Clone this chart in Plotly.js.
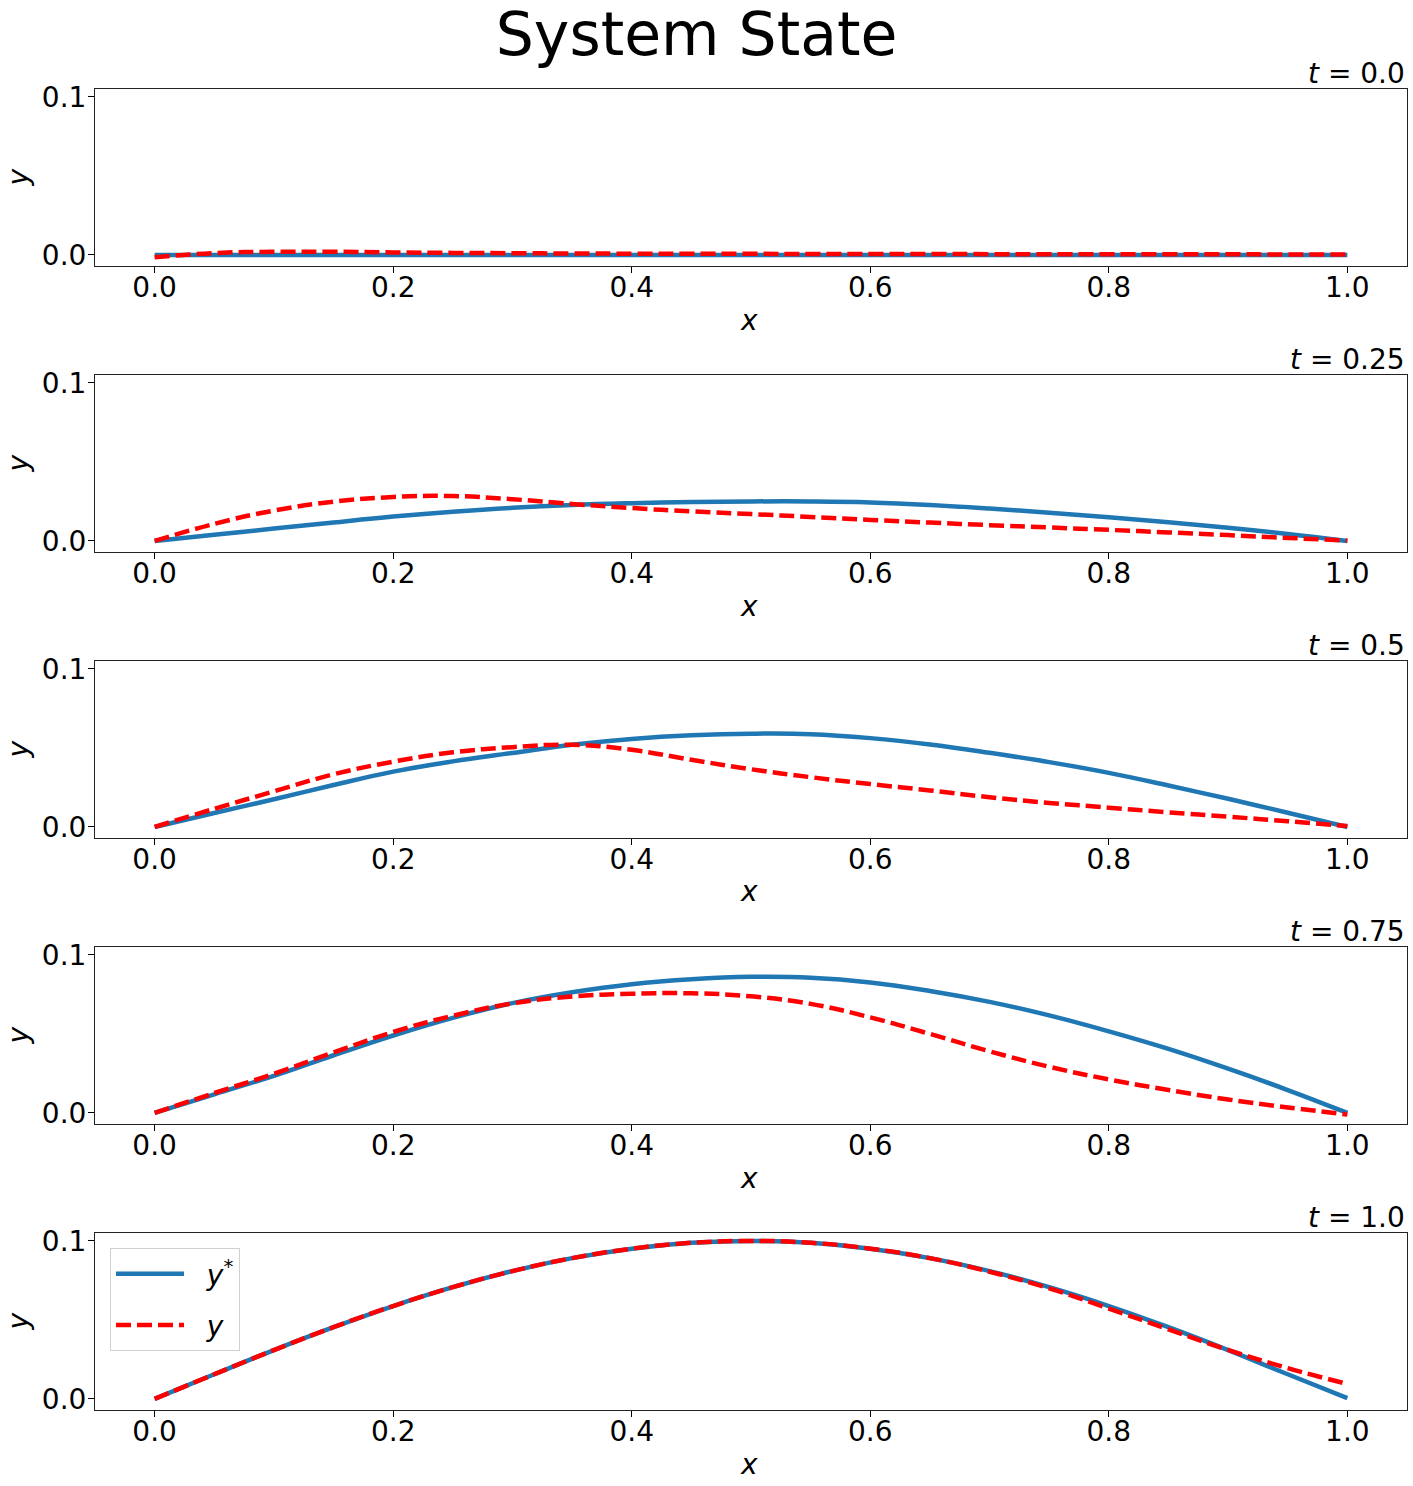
<!DOCTYPE html>
<html>
<head>
<meta charset="utf-8">
<script src="https://cdn.plot.ly/plotly-3.0.1.min.js"></script>
<style>
  body { margin: 0; background: #fff; }
  #plot { width: 1413px; height: 1486px; }
</style>
</head>
<body>
<div id="plot"></div>
<script>
// grid the curves were read on
const xs = [0, 0.05, 0.1, 0.15, 0.2, 0.25, 0.3, 0.35, 0.4, 0.45, 0.5,
            0.55, 0.6, 0.65, 0.7, 0.75, 0.8, 0.85, 0.9, 0.95, 1.0];

const times = ["0.0", "0.25", "0.5", "0.75", "1.0"];

// target state y* per time
const ystar_t0 = [0, 0, 0, 0, 0, 0, 0, 0, 0, 0, 0, 0, 0, 0, 0, 0, 0, 0, 0, 0, 0];
const ystar_t025 = [0, 0.0039, 0.0078, 0.0117, 0.0154, 0.0185, 0.021, 0.0228, 0.0239, 0.0246, 0.025,
                    0.025, 0.0244, 0.0228, 0.0205, 0.0178, 0.015, 0.0118, 0.0083, 0.0044, 0];
const ystar_t05 = [0, 0.0088, 0.0175, 0.0265, 0.035, 0.0415, 0.0468, 0.052, 0.0557, 0.058, 0.059,
                   0.0587, 0.0562, 0.0522, 0.0469, 0.041, 0.0342, 0.0262, 0.0178, 0.009, 0];
const ystar_t075 = [0, 0.0118, 0.0235, 0.0365, 0.049, 0.0602, 0.0695, 0.0764, 0.0815, 0.0846, 0.0861,
                    0.0856, 0.0826, 0.0772, 0.0703, 0.0617, 0.0516, 0.0405, 0.028, 0.0145, 0];
const ystar_t1 = [0, 0.0156, 0.0309, 0.0454, 0.0588, 0.0707, 0.0809, 0.0891, 0.0951, 0.0988, 0.1,
                  0.0988, 0.0951, 0.0891, 0.0809, 0.0707, 0.0588, 0.0454, 0.0309, 0.0156, 0.0005];

// model state y per time
const y_t0 = [-0.0015, 0.0012, 0.002, 0.002, 0.0016, 0.0013, 0.0011, 0.0009, 0.0008, 0.0007, 0.0007,
              0.0006, 0.0006, 0.0006, 0.0005, 0.0005, 0.0005, 0.0004, 0.0004, 0.0003, 0.0002];
const y_t025 = [0, 0.0108, 0.0192, 0.0248, 0.0278, 0.0284, 0.0264, 0.0234, 0.0208, 0.0187, 0.017,
                0.0152, 0.0133, 0.0116, 0.01, 0.0085, 0.007, 0.0054, 0.0037, 0.0019, 0.0003];
const y_t05 = [0, 0.0115, 0.0225, 0.0333, 0.0413, 0.0472, 0.0505, 0.052, 0.0488, 0.0425, 0.0365,
               0.0315, 0.0271, 0.0231, 0.0188, 0.0152, 0.0122, 0.0092, 0.0065, 0.0036, 0.0006];
const y_t075 = [0, 0.0126, 0.0248, 0.0383, 0.0512, 0.0615, 0.0693, 0.0737, 0.0754, 0.0757, 0.0738,
                0.069, 0.0605, 0.05, 0.039, 0.0292, 0.0212, 0.0145, 0.0085, 0.0035, -0.001];
const y_t1 = [0, 0.0156, 0.0309, 0.0454, 0.0588, 0.0707, 0.0809, 0.0891, 0.0951, 0.0988, 0.1,
              0.0988, 0.0951, 0.0891, 0.0805, 0.07, 0.0572, 0.044, 0.031, 0.0195, 0.0095];

const ystar_all = [ystar_t0, ystar_t025, ystar_t05, ystar_t075, ystar_t1];
const y_all = [y_t0, y_t025, y_t05, y_t075, y_t1];

const xTicks = [0, 0.2, 0.4, 0.6, 0.8, 1.0];
const yTicks = [0, 0.1];

// page geometry (px)
const W = 1413, H = 1486;
const plotLeft = 95, plotRight = 1407;
const panelTop = [89, 375, 661, 947, 1233];
const panelH = 177;

const font = "DejaVu Sans";
const blue = "#1f77b4";
const pad = "\u00a0\u00a0";

var data = [];
var layout = {
    width: W,
    height: H,
    margin: {l: 0, r: 0, t: 0, b: 0},
    paper_bgcolor: "#fff",
    plot_bgcolor: "#fff",
    font: {family: font, size: 28, color: "#000"},
    title: {text: "System State", font: {family: font, size: 60, color: "#000"},
            x: 0.493, xanchor: "center", y: 1 - 34 / H, yanchor: "middle"},
    showlegend: true,
    legend: {x: 110 / W, xanchor: "left", y: 1 - 1248 / H, yanchor: "top",
             bgcolor: "rgba(255,255,255,0.8)", bordercolor: "#d0d0d0", borderwidth: 1,
             font: {family: font, size: 28, color: "#000"}, itemwidth: 68,
             tracegroupgap: 12},
    annotations: []
};

for (let i = 0; i < 5; i++) {
    let n = i + 1;
    let xa = n === 1 ? "x" : "x" + n;
    let ya = n === 1 ? "y" : "y" + n;
    let last = (i === 4);

    data.push({
        x: xs, y: ystar_all[i], xaxis: xa, yaxis: ya,
        type: "scatter", mode: "lines",
        line: {color: blue, width: 4.5, shape: "spline", smoothing: 1.2},
        name: pad + "<i>y</i><sup>*</sup>", legendgroup: "ystar", showlegend: last
    });
    data.push({
        x: xs, y: y_all[i], xaxis: xa, yaxis: ya,
        type: "scatter", mode: "lines",
        line: {color: "red", width: 4.5, dash: "15px,6px", shape: "spline", smoothing: 1.2},
        name: pad + "<i>y</i>", legendgroup: "y", showlegend: last
    });

    let top = panelTop[i], bottom = panelTop[i] + panelH;
    layout["xaxis" + (n === 1 ? "" : n)] = {
        domain: [plotLeft / W, plotRight / W],
        anchor: ya,
        range: [-0.05, 1.05],
        tickvals: xTicks,
        ticktext: xTicks.map(v => v.toFixed(1)),
        ticks: "outside", ticklen: 6, tickcolor: "#000",
        ticklabelstandoff: -10,
        showgrid: false, zeroline: false,
        showline: true, mirror: true, linecolor: "#222", linewidth: 1,
        tickfont: {family: font, size: 28, color: "#000"}
    };
    layout["yaxis" + (n === 1 ? "" : n)] = {
        domain: [1 - bottom / H, 1 - top / H],
        anchor: xa,
        range: [-0.007, 0.105],
        tickvals: yTicks,
        ticktext: yTicks.map(v => v.toFixed(1)),
        ticks: "outside", ticklen: 6, tickcolor: "#000",
        ticklabelstandoff: -4,
        showgrid: false, zeroline: false,
        showline: true, mirror: true, linecolor: "#222", linewidth: 1,
        tickfont: {family: font, size: 28, color: "#000"}
    };
    // panel title at the top right
    layout.annotations.push({
        text: "<i>t</i> = " + times[i],
        xref: "paper", yref: "paper",
        x: plotRight / W, xanchor: "right",
        y: 1 - top / H, yanchor: "bottom", yshift: -3,
        showarrow: false,
        font: {family: font, size: 28, color: "#000"}
    });
    // axis titles
    layout.annotations.push({
        text: "<i>x</i>",
        xref: "paper", yref: "paper",
        x: 749 / W, xanchor: "center",
        y: 1 - (bottom + 54) / H, yanchor: "middle",
        showarrow: false,
        font: {family: font, size: 28, color: "#000"}
    });
    layout.annotations.push({
        text: "<i>y</i>",
        xref: "paper", yref: "paper",
        x: 18 / W, xanchor: "center",
        y: 1 - (top + panelH / 2) / H, yanchor: "middle",
        textangle: -90,
        showarrow: false,
        font: {family: font, size: 28, color: "#000"}
    });
}

Plotly.newPlot("plot", data, layout, {staticPlot: true});
</script>
</body>
</html>
